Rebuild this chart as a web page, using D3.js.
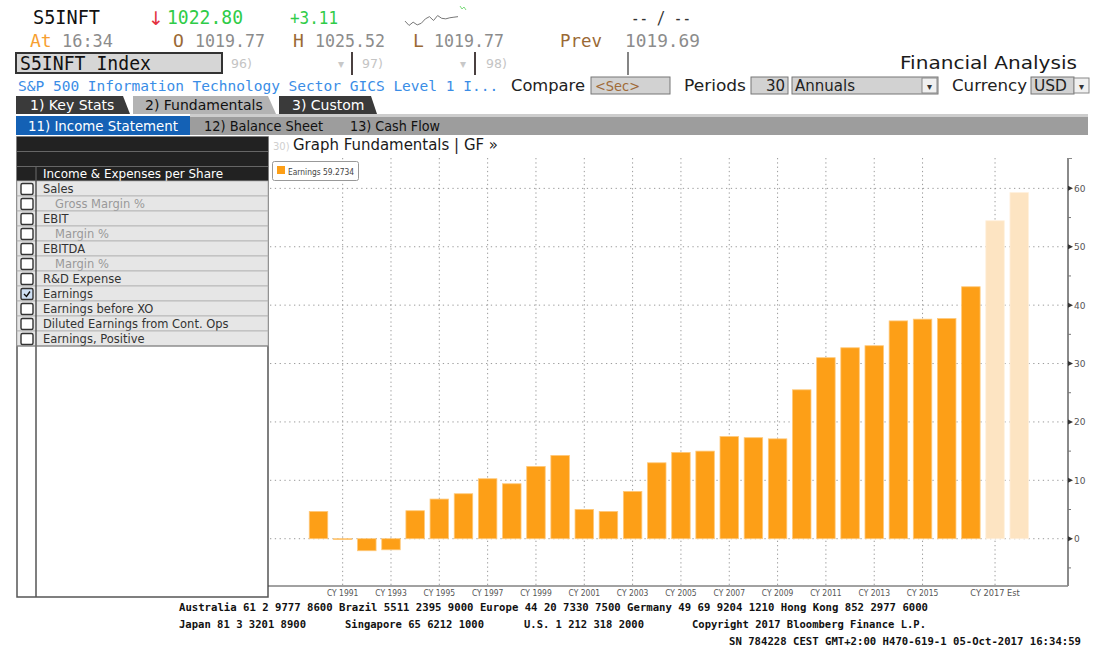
<!DOCTYPE html>
<html>
<head>
<meta charset="utf-8">
<script src="https://cdn.jsdelivr.net/npm/d3@7"></script>
<style>
  body { margin: 0; background: #fff; }
  svg text { font-family: "DejaVu Sans", sans-serif; }
  .mono { font-family: "DejaVu Sans Mono", monospace !important; }
</style>
</head>
<body>
<div id="chartArea"></div>
<script>
const categories = ["CY 1990","CY 1991","CY 1992","CY 1993","CY 1994","CY 1995","CY 1996","CY 1997","CY 1998","CY 1999",
  "CY 2000","CY 2001","CY 2002","CY 2003","CY 2004","CY 2005","CY 2006","CY 2007","CY 2008","CY 2009",
  "CY 2010","CY 2011","CY 2012","CY 2013","CY 2014","CY 2015","CY 2016","Last 12M","CY 2017 Est","CY 2018 Est"];
const earnings = [4.67, -0.15, -2.06, -1.9, 4.79, 6.79, 7.7, 10.27, 9.41, 12.38,
  14.26, 5.02, 4.67, 8.1, 13.0, 14.78, 15.0, 17.5, 17.3, 17.1,
  25.5, 31.0, 32.7, 33.05, 37.3, 37.6, 37.7, 43.15, 54.45, 59.27];
const estimates = ["CY 2017 Est", "CY 2018 Est"];
const xTickLabels = ["CY 1991","CY 1993","CY 1995","CY 1997","CY 1999","CY 2001","CY 2003",
  "CY 2005","CY 2007","CY 2009","CY 2011","CY 2013","CY 2015","CY 2017 Est"];
const yMajorTicks = [0, 10, 20, 30, 40, 50, 60];
const yMinorTicks = [-5, 5, 15, 25, 35, 45, 55];
const legendLabel = "Earnings 59.2734";

const panelRows = [
  {label: "Sales", sub: false, checked: false},
  {label: "Gross Margin %", sub: true, checked: false},
  {label: "EBIT", sub: false, checked: false},
  {label: "Margin %", sub: true, checked: false},
  {label: "EBITDA", sub: false, checked: false},
  {label: "Margin %", sub: true, checked: false},
  {label: "R&D Expense", sub: false, checked: false},
  {label: "Earnings", sub: false, checked: true},
  {label: "Earnings before XO", sub: false, checked: false},
  {label: "Diluted Earnings from Cont. Ops", sub: false, checked: false},
  {label: "Earnings, Positive", sub: false, checked: false}
];

const sparkValues = [1020.6, 1019.8, 1020.4, 1019.9, 1020.2, 1021.0, 1021.4, 1020.7, 1021.6, 1021.1, 1021.0, 1021.2, 1021.3, 1021.4];

const width = 1103, height = 650;
const svg = d3.select("#chartArea").append("svg")
    .attr("width", width)
    .attr("height", height);

function txt(x, y, s, opts = {}) {
  const t = svg.append("text")
      .attr("x", x).attr("y", y)
      .attr("font-size", opts.size || 14)
      .attr("fill", opts.fill || "#222")
      .attr("text-anchor", opts.anchor || "start")
      .text(s);
  if (opts.mono) t.attr("class", "mono");
  if (opts.len) t.attr("textLength", opts.len).attr("lengthAdjust", "spacingAndGlyphs");
  if (opts.weight) t.attr("font-weight", opts.weight);
  return t;
}

// Kopfzeile mit Kursdaten
const green = "#2fcc48", brown = "#9a6935", grey = "#8c8c8c";
txt(33, 24, "S5INFT", {size: 19, mono: true, fill: "#111", len: 67});
txt(148, 25, "↓", {size: 19, fill: "#e3323e"});
txt(167, 24, "1022.80", {size: 19, mono: true, fill: green, len: 76});
txt(290, 24, "+3.11", {size: 18, mono: true, fill: green, len: 48});
txt(631, 24, "-- / --", {size: 17, mono: true, fill: "#333", len: 60});

txt(30, 47, "At", {size: 18, mono: true, fill: "#f7a030"});
txt(62, 47, "16:34", {size: 18, mono: true, fill: grey, len: 51});
txt(173, 47, "O", {size: 18, mono: true, fill: brown});
txt(195, 47, "1019.77", {size: 18, mono: true, fill: grey, len: 70});
txt(293, 47, "H", {size: 18, mono: true, fill: brown});
txt(315, 47, "1025.52", {size: 18, mono: true, fill: grey, len: 70});
txt(413, 47, "L", {size: 18, mono: true, fill: brown});
txt(434, 47, "1019.77", {size: 18, mono: true, fill: grey, len: 70});
txt(560, 47, "Prev", {size: 18, mono: true, fill: brown, len: 42});
txt(625, 47, "1019.69", {size: 18, mono: true, fill: grey, len: 75});

const sx = d3.scaleLinear().domain([0, sparkValues.length - 1]).range([405, 458]);
const sy = d3.scaleLinear().domain([1019.7, 1021.7]).range([26, 15]);
svg.append("path")
    .attr("d", d3.line().x((d, i) => sx(i)).y(d => sy(d))(sparkValues))
    .attr("fill", "none").attr("stroke", "#777").attr("stroke-width", 1);
svg.append("path").attr("d", "M460,6 L462,9 L464,7 L466,10")
    .attr("fill", "none").attr("stroke", "#7ddc7d").attr("stroke-width", 1);

// Ticker-Feld
svg.append("rect").attr("x", 16).attr("y", 53).attr("width", 206).attr("height", 20)
    .attr("fill", "#d6d6d6").attr("stroke", "#333").attr("stroke-width", 2);
txt(20, 70, "S5INFT Index", {size: 19, mono: true, fill: "#111", len: 131});
[[231, "96)"], [362, "97)"], [486, "98)"]].forEach(([x, s]) => txt(x, 68, s, {size: 12.5, fill: "#c4c4c4"}));
[338, 460].forEach(x => txt(x, 68, "▾", {size: 12, fill: "#c8c8c8"}));
[352, 475].forEach(x => svg.append("line").attr("x1", x).attr("x2", x).attr("y1", 52).attr("y2", 75)
    .attr("stroke", "#4a4040").attr("stroke-width", 2));
svg.append("line").attr("x1", 628).attr("x2", 628).attr("y1", 52).attr("y2", 75).attr("stroke", "#333").attr("stroke-width", 1.2);
txt(1077, 69, "Financial Analysis", {size: 18.5, anchor: "end", fill: "#1a1a1a", len: 177});

// Zeile mit Beschreibung und Optionen
txt(18, 91, "S&P 500 Information Technology Sector GICS Level 1 I...", {size: 14.5, mono: true, fill: "#3a8de6"});
txt(511, 91, "Compare", {size: 15, fill: "#222", len: 74});
svg.append("rect").attr("x", 591).attr("y", 77).attr("width", 79).attr("height", 17)
    .attr("fill", "#d2d2d2").attr("stroke", "#777");
txt(595, 91, "<Sec>", {size: 14.5, fill: "#a06a38", len: 45});
txt(684, 91, "Periods", {size: 15, fill: "#222", len: 62});
svg.append("rect").attr("x", 751).attr("y", 77).attr("width", 37).attr("height", 17)
    .attr("fill", "#d2d2d2").attr("stroke", "#777");
txt(785, 91, "30", {size: 15, fill: "#222", anchor: "end"});
svg.append("rect").attr("x", 792).attr("y", 77).attr("width", 146).attr("height", 17)
    .attr("fill", "#d2d2d2").attr("stroke", "#777");
svg.append("rect").attr("x", 922).attr("y", 78).attr("width", 15).attr("height", 15)
    .attr("fill", "#f0f0f0").attr("stroke", "#888");
txt(795, 91, "Annuals", {size: 15, fill: "#222", len: 60});
txt(929.5, 90, "▾", {size: 10, fill: "#333", anchor: "middle"});
txt(952, 91, "Currency", {size: 15, fill: "#222", len: 75});
svg.append("rect").attr("x", 1031).attr("y", 77).attr("width", 43).attr("height", 17)
    .attr("fill", "#d2d2d2").attr("stroke", "#777");
svg.append("rect").attr("x", 1074).attr("y", 78).attr("width", 15).attr("height", 15)
    .attr("fill", "#f0f0f0").attr("stroke", "#888");
txt(1034, 91, "USD", {size: 15, fill: "#222", len: 33});
txt(1081.5, 90, "▾", {size: 10, fill: "#333", anchor: "middle"});

// Reiter
const tabs = [
  {x0: 16, x1: 123, x2: 130, label: "1) Key Stats", fill: "#3a3a3a", color: "#fff", tx: 30},
  {x0: 133, x1: 268, x2: 276, label: "2) Fundamentals", fill: "#b3b3b3", color: "#111", tx: 145},
  {x0: 279, x1: 371, x2: 377, label: "3) Custom", fill: "#3a3a3a", color: "#fff", tx: 292}
];
tabs.forEach(t => {
  svg.append("path").attr("d", `M${t.x0},96 L${t.x1},96 L${t.x2},114 L${t.x0},114 Z`).attr("fill", t.fill);
  txt(t.tx, 110, t.label, {size: 14, fill: t.color});
});

svg.append("rect").attr("x", 190).attr("y", 114).attr("width", 898).attr("height", 3).attr("fill", "#cdcdcd");
svg.append("rect").attr("x", 190).attr("y", 117).attr("width", 898).attr("height", 18).attr("fill", "#9d9d9d");
svg.append("rect").attr("x", 16).attr("y", 116).attr("width", 174).attr("height", 19).attr("fill", "#1461b5");
txt(28, 131, "11) Income Statement", {size: 14, fill: "#fff", len: 150});
txt(204, 131, "12) Balance Sheet", {size: 14, fill: "#111", len: 119});
txt(350, 131, "13) Cash Flow", {size: 14, fill: "#111", len: 90});

// Linkes Auswahlfeld
const panel = {x: 17, y: 137, w: 251, h: 460, colX: 36, rowH: 15, rowsTop: 181};
svg.append("rect").attr("x", panel.x).attr("y", panel.y).attr("width", panel.w).attr("height", panel.h)
    .attr("fill", "#fff").attr("stroke", "#555").attr("stroke-width", 1.5);
svg.append("rect").attr("x", panel.x).attr("y", 137).attr("width", panel.w).attr("height", 14).attr("fill", "#222");
svg.append("rect").attr("x", panel.x).attr("y", 152).attr("width", panel.w).attr("height", 14).attr("fill", "#222");
svg.append("rect").attr("x", panel.x).attr("y", 167).attr("width", panel.w).attr("height", 14).attr("fill", "#222");
svg.append("line").attr("x1", panel.x).attr("x2", panel.x + panel.w).attr("y1", 151.5).attr("y2", 151.5).attr("stroke", "#666");
svg.append("line").attr("x1", panel.x).attr("x2", panel.x + panel.w).attr("y1", 166.5).attr("y2", 166.5).attr("stroke", "#666");
txt(43, 178, "Income & Expenses per Share", {size: 11.5, fill: "#fff", len: 180});

const rowG = svg.append("g");
panelRows.forEach((r, i) => {
  const y = panel.rowsTop + i * panel.rowH;
  rowG.append("rect").attr("x", panel.x).attr("y", y).attr("width", panel.w).attr("height", panel.rowH)
      .attr("fill", "#e6e6e6").attr("stroke", "#b0b0b0").attr("stroke-width", 0.8);
  rowG.append("rect").attr("x", 21).attr("y", y + 2.5).attr("width", 12).attr("height", 11).attr("rx", 1.5)
      .attr("fill", r.checked ? "#cfe0f4" : "#fff").attr("stroke", "#333").attr("stroke-width", 1.4);
  if (r.checked) rowG.append("path").attr("d", `M24,${y + 8} L26.5,${y + 10.5} L30,${y + 5.5}`)
      .attr("fill", "none").attr("stroke", "#111").attr("stroke-width", 1.4);
  rowG.append("text").attr("x", r.sub ? 55 : 43).attr("y", y + 12)
      .attr("font-size", 11.5).attr("fill", r.sub ? "#999" : "#333").text(r.label);
});
svg.append("line").attr("x1", panel.colX).attr("x2", panel.colX).attr("y1", 167).attr("y2", panel.y + panel.h)
    .attr("stroke", "#555").attr("stroke-width", 1.5);
svg.append("line").attr("x1", panel.x).attr("x2", panel.x + panel.w).attr("y1", panel.rowsTop + panelRows.length * panel.rowH)
    .attr("y2", panel.rowsTop + panelRows.length * panel.rowH).attr("stroke", "#777");

// Diagrammbereich
txt(273, 150, "30)", {size: 10, fill: "#cfcfcf"});
txt(293, 150, "Graph Fundamentals | GF »", {size: 15, fill: "#1a1a1a", len: 205});

const plot = {left: 270, right: 1068, top: 158, bottom: 586};
const x = d3.scalePoint().domain(categories).range([318.5, 1019.2]);
const barW = x.step() * 0.765;
const y = d3.scaleLinear().domain([-8.1, 65.2]).range([plot.bottom, plot.top]);

// Rasterlinien
svg.selectAll(".y-grid").data(yMajorTicks).enter().append("line")
    .attr("class", "y-grid")
    .attr("x1", plot.left).attr("x2", plot.right)
    .attr("y1", d => y(d)).attr("y2", d => y(d))
    .attr("stroke", "#9a9a9a").attr("stroke-dasharray", "1.3,3.5");
svg.selectAll(".x-grid").data(xTickLabels).enter().append("line")
    .attr("class", "x-grid")
    .attr("x1", d => x(d)).attr("x2", d => x(d))
    .attr("y1", plot.top).attr("y2", plot.bottom)
    .attr("stroke", "#9a9a9a").attr("stroke-dasharray", "1.3,3");

// Balken
svg.selectAll(".bar").data(categories).enter().append("rect")
    .attr("class", "bar")
    .attr("x", d => x(d) - barW / 2)
    .attr("width", barW)
    .attr("y", (d, i) => y(Math.max(0, earnings[i])))
    .attr("height", (d, i) => Math.max(0.8, Math.abs(y(earnings[i]) - y(0))))
    .attr("fill", d => estimates.includes(d) ? "#fde4c2" : "#fd9f17")
    .attr("stroke", d => estimates.includes(d) ? "#fff0dc" : "#ffc97a")
    .attr("stroke-width", 0.8);

// Legende
svg.append("rect").attr("x", 272.5).attr("y", 161.5).attr("width", 86).attr("height", 19).attr("rx", 2)
    .attr("fill", "#fff").attr("stroke", "#999");
svg.append("rect").attr("x", 277).attr("y", 166).attr("width", 8).attr("height", 8).attr("fill", "#fd9f17");
txt(288, 174.5, legendLabel, {size: 9, fill: "#444", len: 66});

// Achsen
svg.append("line").attr("x1", 268).attr("x2", plot.right).attr("y1", plot.bottom).attr("y2", plot.bottom)
    .attr("stroke", "#444").attr("stroke-width", 1);
svg.append("line").attr("x1", plot.right).attr("x2", plot.right).attr("y1", plot.top).attr("y2", plot.bottom)
    .attr("stroke", "#8a8a8a").attr("stroke-width", 2);
svg.append("line").attr("x1", plot.right).attr("x2", plot.right + 4).attr("y1", plot.top + 0.5).attr("y2", plot.top + 0.5)
    .attr("stroke", "#8a8a8a");

const yAxis = svg.append("g");
yAxis.selectAll(".minor").data(yMinorTicks).enter().append("line")
    .attr("x1", plot.right).attr("x2", plot.right + 3)
    .attr("y1", d => y(d)).attr("y2", d => y(d))
    .attr("stroke", "#777");
yAxis.selectAll(".major").data(yMajorTicks).enter().append("path")
    .attr("d", d => `M${plot.right},${y(d) - 2.5} L${plot.right + 5},${y(d)} L${plot.right},${y(d) + 2.5} Z`)
    .attr("fill", "#333");
yAxis.selectAll(".ylab").data(yMajorTicks).enter().append("text")
    .attr("x", plot.right + 6).attr("y", d => y(d) + 3.5)
    .attr("font-size", 9).attr("fill", "#555")
    .text(d => d);

svg.selectAll(".xlab").data(xTickLabels).enter().append("text")
    .attr("x", d => x(d)).attr("y", 596)
    .attr("text-anchor", "middle")
    .attr("font-size", 8.5).attr("fill", "#555")
    .attr("textLength", d => d.length * 4.5).attr("lengthAdjust", "spacingAndGlyphs")
    .text(d => d);

// Fusszeile
txt(179, 611, "Australia 61 2 9777 8600 Brazil 5511 2395 9000 Europe 44 20 7330 7500 Germany 49 69 9204 1210 Hong Kong 852 2977 6000",
    {size: 10.5, mono: true, fill: "#111", len: 749, weight: "bold"});
txt(179, 628, "Japan 81 3 3201 8900", {size: 10.5, mono: true, fill: "#111", len: 127, weight: "bold"});
txt(345, 628, "Singapore 65 6212 1000", {size: 10.5, mono: true, fill: "#111", len: 139, weight: "bold"});
txt(524, 628, "U.S. 1 212 318 2000", {size: 10.5, mono: true, fill: "#111", len: 120, weight: "bold"});
txt(692, 628, "Copyright 2017 Bloomberg Finance L.P.", {size: 10.5, mono: true, fill: "#111", len: 234, weight: "bold"});
txt(1081, 645, "SN 784228 CEST GMT+2:00 H470-619-1 05-Oct-2017 16:34:59",
    {size: 10.5, mono: true, fill: "#111", len: 352, anchor: "end", weight: "bold"});
</script>
</body>
</html>
